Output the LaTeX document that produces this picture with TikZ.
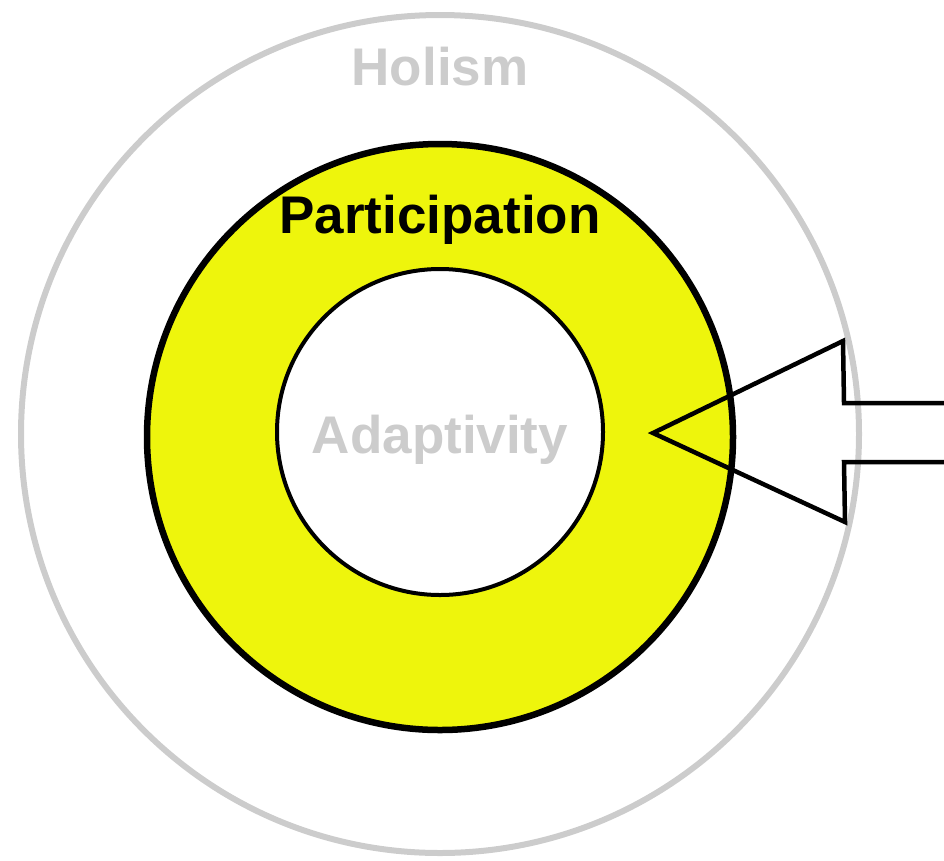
\documentclass[tikz,border=0pt]{standalone}
\usepackage{fontspec}
\setmainfont{Liberation Sans}
\usepackage{tikz}
\usetikzlibrary{positioning}
\definecolor{ringyellow}{RGB}{238,245,12}
\definecolor{softgray}{RGB}{204,204,204}

\begin{document}
\begin{tikzpicture}[
    x=1pt, y=-1pt,
    ring/.style={circle, inner sep=0pt},
    label/.style={anchor=base, font=\fontsize{53}{60}\selectfont\bfseries},
    blockarrow/.style={draw=black, line width=4.5pt, miter limit=20}
]
    \useasboundingbox (0,0) rectangle (944,860);

    % Rings
    \node[ring, draw=softgray, line width=6pt, minimum size=838pt] (holism) at (440,434) {};
    \node[ring, draw=black, fill=ringyellow, line width=6.5pt, minimum size=586pt] (participation) at (440,437) {};
    \node[ring, draw=black, fill=white, line width=4pt, minimum size=326pt] (adaptivity) at (440,432) {};

    % Labels
    \node[label, softgray] (holismtext) at (440,85) {Holism};
    \node[label, black] (participationtext) at (440,233) {Participation};
    \node[label, softgray] (adaptivitytext) at (440,453) {Adaptivity};

    % Arrow pointing into the ring
    \draw[blockarrow] (960,403) -- (844,403) -- (843,341) -- (653,433)
        -- (845,522) -- (844,462) -- (960,462);
\end{tikzpicture}
\end{document}
